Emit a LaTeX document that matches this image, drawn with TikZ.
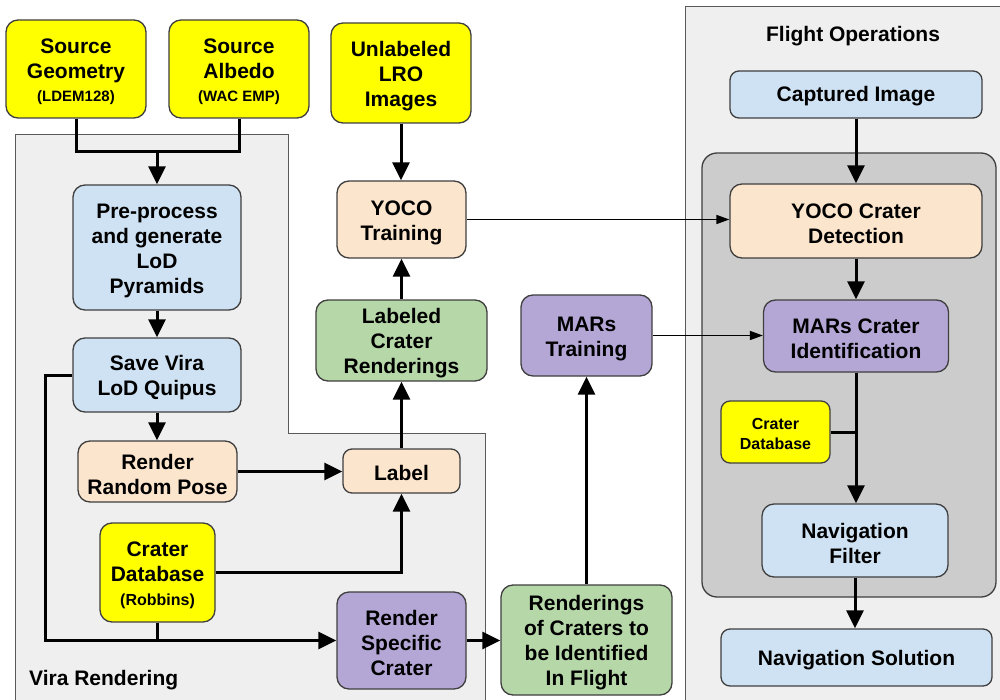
\documentclass[tikz,border=0pt]{standalone}
\usepackage{fontspec}
\setmainfont{Liberation Sans}
\usetikzlibrary{arrows.meta}
\definecolor{cyellow}{HTML}{FFFF00}
\definecolor{cblue}{HTML}{CFE2F3}
\definecolor{cpeach}{HTML}{FCE5CD}
\definecolor{cgreen}{HTML}{B6D7A8}
\definecolor{cpurple}{HTML}{B4A7D6}
\definecolor{cregion}{HTML}{EFEFEF}
\definecolor{cinner}{HTML}{CCCCCC}
\definecolor{cborder}{HTML}{3F3F3F}
\definecolor{cregborder}{HTML}{5A5A5A}
\newcommand{\mainf}{\bfseries\fontsize{21}{25}\selectfont}
\newcommand{\subf}[1]{{\fontsize{15}{25}\selectfont #1}}
\newcommand{\up}{\rule{0pt}{21pt}}
\newcommand{\upsmall}{\rule{0pt}{16pt}}
\begin{document}
\begin{tikzpicture}[x=1pt,y=-1pt,
  boxbase/.style={draw=cborder, line width=1.3pt, rounded corners=12pt, align=center, inner sep=0pt, font=\mainf},
  box/.style={boxbase},
  onebox/.style={boxbase, rounded corners=9pt, execute at begin node={\raisebox{5pt}{\vphantom{Ag}}}},
  smallbox/.style={box, rounded corners=9pt},
  conn/.style={line width=3pt, draw=black},
  arr/.style={conn, -{Triangle[length=18pt,width=17pt]}},
  thinarr/.style={line width=1.6pt, -{Triangle[length=13pt,width=9pt]}},
  region/.style={fill=cregion, draw=cregborder, line width=1pt},
  title/.style={font=\mainf, inner sep=0pt}]
\useasboundingbox (0,0) rectangle (1000,700);
% regions
\draw[region] (15,135) -- (288,135) -- (288,433) -- (485,433) -- (485,705) -- (15,705) -- cycle;
\draw[region] (685,7) rectangle (1005,705);
\draw[fill=cinner, draw=cborder, line width=1.3pt, rounded corners=15pt] (702,153) rectangle (996,597);
\node[title, anchor=west] (viralbl) at (29,680) {Vira Rendering};
\node[title] (flbl) at (853,36) {Flight Operations};
% nodes
\node[box, fill=cyellow, minimum width=140, minimum height=98] (srcgeo) at (76,69) {\up Source\\Geometry\\[-2pt]\subf{(LDEM128)}};
\node[box, fill=cyellow, minimum width=140, minimum height=98] (srcalb) at (239,69) {\up Source\\Albedo\\[-2pt]\subf{(WAC EMP)}};
\node[box, fill=cyellow, minimum width=140, minimum height=100] (lro) at (401,73) {\up Unlabeled\\LRO\\Images};
\node[box, fill=cblue, minimum width=168, minimum height=125] (pre) at (157,247.5) {\up Pre-process\\and generate\\LoD\\Pyramids};
\node[box, fill=cblue, minimum width=168, minimum height=74] (save) at (157,375) {\up Save Vira\\LoD Quipus};
\node[box, fill=cpeach, minimum width=159, minimum height=61] (rrp) at (157.5,471.5) {\up Render\\Random Pose};
\node[box, fill=cyellow, minimum width=115, minimum height=99] (cdb) at (157.5,572.5) {\up Crater\\Database\\[-1pt]{\fontsize{16}{25}\selectfont (Robbins)}};
\node[box, fill=cpurple, minimum width=129, minimum height=97] (rsc) at (401.5,640.5) {\up Render\\Specific\\Crater};
\node[onebox, fill=cpeach, minimum width=117, minimum height=44] (label) at (401.5,471) {Label};
\node[box, fill=cgreen, minimum width=171, minimum height=81] (lcr) at (401.5,340.5) {\up Labeled\\Crater\\Renderings};
\node[box, fill=cpeach, minimum width=129, minimum height=77] (yocot) at (401.5,219.5) {\up YOCO\\Training};
\node[box, fill=cpurple, minimum width=131, minimum height=81] (marst) at (586.5,335.5) {\up MARs\\Training};
\node[box, fill=cgreen, minimum width=171, minimum height=110] (rend) at (586.5,640) {\up Renderings\\of Craters to\\be Identified\\In Flight};
\node[onebox, fill=cblue, minimum width=252, minimum height=47] (capt) at (856,94.5) {Captured Image};
\node[box, fill=cpeach, minimum width=252, minimum height=74] (yocod) at (856,221) {\up YOCO Crater\\Detection};
\node[box, fill=cpurple, minimum width=185, minimum height=72] (marsid) at (856,336) {\up MARs Crater\\Identification};
\node[smallbox, fill=cyellow, minimum width=109, minimum height=62, font=\bfseries\fontsize{16}{20}\selectfont] (cdb2) at (775.5,432) {\upsmall Crater\\Database};
\node[box, fill=cblue, minimum width=186, minimum height=73] (navf) at (855,540.5) {\up Navigation\\Filter};
\node[onebox, fill=cblue, minimum width=271, minimum height=57] (navs) at (856.5,657.5) {Navigation Solution};
% connectors
\coordinate (j1) at (157,152);
\coordinate (lx) at (45,640.5);
\draw[conn] (srcgeo.south) |- (j1) -| (srcalb.south);
\draw[arr] (j1) -- (pre.north);
\draw[arr] (pre.south) -- (save.north);
\draw[arr] (save.south) -- (save.south |- rrp.north);
\draw[arr] (save.west) -| (lx) -- (rsc.west);
\draw[conn] (cdb.south) -- (cdb.south |- rsc.west);
\draw[arr] (rrp.east) -- (rrp.east -| label.west);
\draw[arr] (cdb.east) -| (label.south);
\draw[arr] (label.north) -- (lcr.south);
\draw[arr] (lcr.north) -- (yocot.south);
\draw[arr] (lro.south) -- (lro.south |- yocot.north);
\draw[arr] (rsc.east) -- (rsc.east -| rend.west);
\draw[arr] (rend.north) -- (marst.south);
\draw[thinarr] (yocot.east) -- (yocot.east -| yocod.west);
\draw[thinarr] (marst.east) -- (marst.east -| marsid.west);
\draw[arr] (capt.south) -- (yocod.north);
\draw[arr] (yocod.south) -- (marsid.north);
\draw[arr] (marsid.south) -- (marsid.south |- navf.north);
\draw[conn] (cdb2.east) -- (cdb2.east -| marsid.south);
\draw[arr] (navf.south) -- (navf.south |- navs.north);
\end{tikzpicture}
\end{document}
